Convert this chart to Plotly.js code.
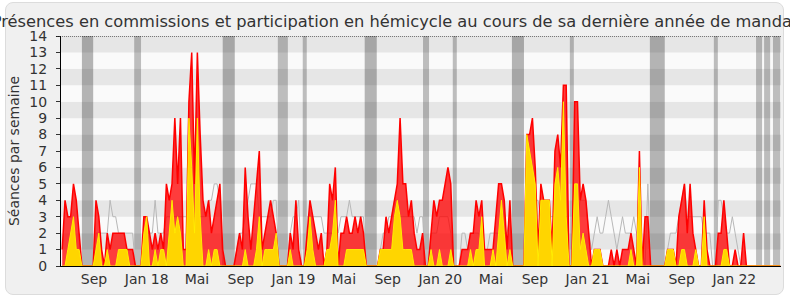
<!DOCTYPE html>
<html>
<head>
<meta charset="utf-8">
<script src="https://cdn.plot.ly/plotly-3.0.1.min.js"></script>
<style>
  html, body { margin:0; padding:0; background:#ffffff; }
  #frame { position:absolute; left:5px; top:2px; width:777px; height:291px;
           background:#f0f0f0; border:1px solid #dcdcdc; border-radius:8px; }
  #chart { position:absolute; left:0; top:0; width:790px; height:300px; }
</style>
</head>
<body>
<div id="frame"></div>
<div id="chart"></div>
<script>
// ---- data (weekly values, first week starting 2017-06-05) ----
const firstWeek = '2017-06-05';
const commissions = [
  1,4,3,3,5,4,2,0,0,0,
  0,0,4,3,1,0,2,1,2,2,
  2,2,2,1,1,1,0,0,0,3,
  3,2,1,2,1,2,1,5,4,5,
  9,5,9,1,1,10,13,5,13,8,
  4,3,4,2,3,4,5,1,0,0,
  0,0,1,2,1,6,3,1,3,5,
  7,1,2,3,4,3,2,0,0,0,
  0,2,1,4,1,0,0,2,4,3,
  2,1,2,0,1,5,4,6,0,2,
  2,3,2,2,3,2,3,2,0,0,
  0,0,0,1,1,3,2,3,4,5,
  9,5,5,3,4,2,1,1,2,0,
  0,2,4,3,4,4,5,6,5,0,
  0,0,1,1,1,2,2,4,3,4,
  1,1,1,1,3,5,5,4,1,4,
  0,0,0,0,0,8,8,9,6,1,
  5,4,4,4,1,7,8,6,11,11,
  0,0,10,10,4,5,4,2,0,1,
  1,1,0,0,0,1,0,1,0,1,
  1,1,2,1,0,7,0,3,3,0,
  0,0,0,0,0,1,1,1,0,3,
  4,5,2,5,2,1,0,0,4,1,
  0,0,0,2,2,4,2,0,0,1,
  0,0,2,0,0,0,0,0,0,0,
  0,0,0,0,0,0
];
const hemicycle = [
  0,0,1,2,3,1,1,0,0,0,
  0,0,1,2,0,0,1,0,0,0,
  1,1,1,1,0,0,0,0,0,2,
  3,0,0,1,0,1,1,0,2,4,
  2,3,2,0,0,9,6,2,9,3,
  0,0,1,0,1,1,0,0,0,0,
  0,0,0,0,0,1,0,0,0,1,
  3,0,1,1,1,1,2,0,0,0,
  0,1,0,0,0,0,0,1,3,1,
  0,0,0,0,1,1,2,4,0,0,
  0,1,1,1,1,1,1,1,0,0,
  0,0,0,1,1,1,1,1,3,4,
  3,1,1,1,1,0,0,0,0,0,
  0,1,0,0,1,0,0,0,1,0,
  0,0,0,0,0,1,0,1,1,3,
  0,0,0,1,0,2,4,2,0,1,
  0,0,0,0,0,8,7,6,5,0,
  4,4,4,4,0,5,6,4,10,3,
  0,0,5,5,1,2,1,0,0,1,
  1,1,0,0,0,0,0,0,0,0,
  0,0,1,0,0,6,0,0,0,0,
  0,0,0,0,0,1,1,1,0,0,
  1,1,0,0,0,1,0,0,3,0,
  0,0,0,0,0,1,1,0,0,0,
  0,0,0,0,0,0,0,0,0,0,
  0,0,0,0,0,0
];
const mediane = [
  0,0,0,0,0,0,0,0,0,0,
  0,0,2,2,2,2,2,4,3,3,
  2,2,2,2,2,2,0,0,0,1,
  2,2,2,4,2,2,2,3,3,3,
  3,3,3,3,3,3,3,3,3,3,
  3,3,4,4,5,5,4,0,0,0,
  0,0,1,2,2,3,4,5,5,5,
  3,3,3,3,3,4,4,0,0,0,
  0,2,3,3,4,0,0,3,3,3,
  3,3,3,2,2,2,2,3,2,3,
  3,3,4,3,3,3,3,3,0,0,
  0,0,0,1,2,2,3,3,4,4,
  3,3,3,3,3,3,2,3,3,0,
  0,2,2,2,3,3,3,3,2,0,
  0,0,2,2,1,2,2,2,2,1,
  1,1,2,2,2,2,2,2,2,3,
  0,0,0,0,0,3,3,3,4,4,
  3,3,3,3,3,3,3,3,3,3,
  0,0,3,3,4,4,4,2,1,2,
  3,2,2,3,4,3,2,1,2,3,
  2,2,2,3,2,1,1,0,5,0,
  0,0,0,0,0,1,2,2,2,3,
  4,5,3,3,3,3,3,3,2,2,
  2,0,0,4,4,3,2,2,3,2,
  1,0,0,0,0,0,0,0,0,0,
  0,0,0,0,0,0
];
// parliamentary breaks [start, end, summer?]
const vacances = [
  ['2017-07-24','2017-08-21',1],
  ['2017-12-01','2017-12-18',0],
  ['2018-07-09','2018-08-08',1],
  ['2018-11-23','2018-12-18',0],
  ['2019-01-24','2019-02-03',0],
  ['2019-06-27','2019-07-27',1],
  ['2019-11-19','2019-12-04',0],
  ['2020-02-01','2020-02-11',0],
  ['2020-06-27','2020-07-27',1],
  ['2020-11-18','2020-11-28',0],
  ['2021-06-05','2021-07-12',1],
  ['2021-11-11','2021-11-21',0],
  ['2022-02-24','2022-03-11',0],
  ['2022-03-16','2022-03-31',0],
  ['2022-04-07','2022-04-25',0]
];
const tickDates  = ['2017-08-23','2018-01-01','2018-05-06','2018-08-23','2019-01-01','2019-05-06',
                    '2019-08-23','2020-01-01','2020-05-06','2020-08-23','2021-01-01','2021-05-06',
                    '2021-08-23','2022-01-01'];
const tickLabels = ['Sep','Jan 18','Mai','Sep','Jan 19','Mai','Sep','Jan 20','Mai','Sep','Jan 21','Mai','Sep','Jan 22'];
const xRange = ['2017-06-02','2022-04-27'];
const yMax = 14;

// ---- build ----
const t0 = Date.parse(firstWeek + 'T00:00:00Z');
const weeks = commissions.map((_, i) => new Date(t0 + i * 7 * 86400000).toISOString().slice(0, 10));

const shapes = [];
for (let k = 0; k < yMax; k++) {
  shapes.push({type:'rect', layer:'below', xref:'paper', yref:'y', x0:0, x1:1, y0:k, y1:k+1,
               fillcolor: (k % 2 === 1) ? '#e6e6e6' : '#fafafa', line:{width:0}});
}
vacances.forEach(v => {
  shapes.push({type:'rect', layer:'below', xref:'x', yref:'y', x0:v[0], x1:v[1], y0:0, y1:yMax,
               fillcolor: v[2] ? 'rgba(0,0,0,0.28)' : 'rgba(0,0,0,0.245)', line:{width:0}});
});
shapes.push({type:'line', layer:'above', xref:'paper', yref:'y', x0:-0.007, x1:1, y0:yMax, y1:yMax,
             line:{color:'#000', width:1, dash:'1px,1px'}});

const traces = [
  {x:weeks, y:mediane, type:'scatter', mode:'lines', line:{color:'#b8b8b8', width:1}, hoverinfo:'skip'},
  {x:weeks, y:commissions, type:'scatter', mode:'lines', fill:'tozeroy',
   fillcolor:'rgba(255,0,0,0.76)', line:{color:'#ff0000', width:1.5}, hoverinfo:'skip'},
  {x:weeks, y:hemicycle, type:'scatter', mode:'lines', fill:'tozeroy',
   fillcolor:'#ffd500', line:{color:'#ffee00', width:1}, hoverinfo:'skip'}
];

const layout = {
  width:790, height:300,
  paper_bgcolor:'rgba(0,0,0,0)', plot_bgcolor:'#fafafa',
  margin:{l:61, r:9, t:36, b:34, pad:0},
  showlegend:false,
  font:{family:'DejaVu Sans, Verdana, sans-serif', color:'#333'},
  title:{text:'Présences en commissions et participation en hémicycle au cours de sa dernière année de mandat',
         font:{family:'DejaVu Sans', size:16.25, color:'#333'}, x:0.5, xanchor:'center',
         xref:'container', yref:'container', y:0.93, yanchor:'middle'},
  xaxis:{type:'date', range:xRange, tickvals:tickDates, ticktext:tickLabels, ticks:'',
         showgrid:false, zeroline:false, showline:true, linecolor:'#000', linewidth:1,
         tickfont:{size:14, color:'#333'}, ticklabelstandoff:0, fixedrange:true},
  yaxis:{range:[0, yMax], tickvals:[0,1,2,3,4,5,6,7,8,9,10,11,12,13,14], ticks:'outside', ticklen:4,
         tickcolor:'#333', showgrid:false, zeroline:false, showline:true, linecolor:'#000', linewidth:1,
         tickfont:{size:14, color:'#333'}, ticklabelstandoff:6, automargin:false,
         title:{text:'Séances par semaine', font:{size:14, color:'#333'}, standoff:6}, fixedrange:true},
  shapes:shapes
};

Plotly.newPlot('chart', traces, layout, {staticPlot:true, displayModeBar:false});
</script>
</body>
</html>
